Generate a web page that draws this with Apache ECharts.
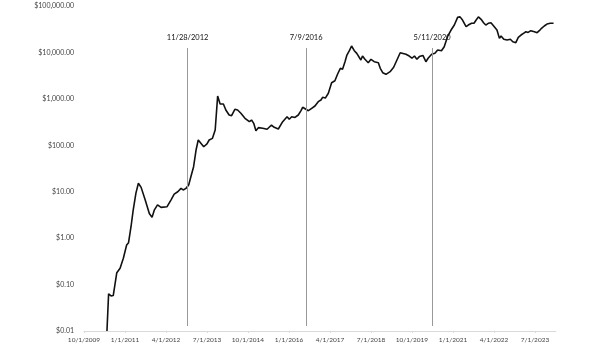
<!DOCTYPE html>
<html>
<head>
<meta charset="utf-8">
<script src="https://cdn.jsdelivr.net/npm/echarts@6/dist/echarts.min.js"></script>
<style>
html,body{margin:0;padding:0;background:#fff;}
#chart{width:600px;height:357px;}
</style>
</head>
<body>
<div id="chart"></div>
<script>
// Dates of price observations
const dates = [
'2010-06-13','2010-07-01','2010-07-28','2010-08-22','2010-10-01','2010-11-07','2010-12-13',
'2011-01-19','2011-02-10','2011-03-07','2011-04-01','2011-05-01','2011-05-28','2011-06-28',
'2011-08-13','2011-09-28','2011-10-28','2011-11-22','2011-12-28','2012-02-07','2012-04-13',
'2012-05-25','2012-07-01','2012-08-10','2012-09-16','2012-10-10','2012-11-10','2012-12-10',
'2013-01-04','2013-02-04','2013-03-01','2013-03-25','2013-04-16','2013-05-25','2013-07-01',
'2013-07-25','2013-09-01','2013-10-01','2013-10-28','2013-11-25','2013-12-16','2014-01-01',
'2014-01-28','2014-03-04','2014-04-01','2014-05-07','2014-06-07','2014-07-13','2014-08-28',
'2014-10-16','2014-11-10','2014-12-04','2014-12-28','2015-01-25','2015-03-13','2015-05-01',
'2015-06-19','2015-07-19','2015-09-04','2015-10-22','2015-12-10','2016-01-04','2016-02-01',
'2016-03-07','2016-04-13','2016-05-13','2016-06-01','2016-07-07','2016-08-04','2016-09-10',
'2016-10-16','2016-11-22','2016-12-22','2017-01-10','2017-02-10','2017-03-13','2017-04-19',
'2017-05-25','2017-06-25','2017-07-25','2017-08-19','2017-09-16','2017-10-07','2017-11-04',
'2017-11-28','2017-12-28','2018-01-25','2018-02-13','2018-03-10','2018-03-28','2018-04-25',
'2018-06-01','2018-07-01','2018-08-07','2018-09-22','2018-10-13','2018-11-10','2018-12-16',
'2019-02-01','2019-03-10','2019-04-16','2019-05-22','2019-07-25','2019-09-01','2019-10-01',
'2019-10-28','2019-11-25','2019-12-22','2020-01-13','2020-02-01','2020-03-04','2020-03-28',
'2020-05-07','2020-06-13','2020-07-13','2020-08-25','2020-09-25','2020-11-01','2020-12-10',
'2021-01-16','2021-02-22','2021-03-19','2021-04-16','2021-05-25','2021-06-19','2021-07-25',
'2021-08-22','2021-09-10','2021-10-10','2021-11-10','2021-12-07','2022-01-01','2022-01-28',
'2022-02-28','2022-03-28','2022-05-04','2022-06-01','2022-06-19','2022-07-19','2022-08-25',
'2022-10-01','2022-10-28','2022-12-01','2022-12-28','2023-01-28','2023-02-25','2023-03-22',
'2023-04-16','2023-05-16','2023-06-25','2023-07-25','2023-08-19','2023-09-13','2023-10-13',
'2023-11-13','2023-12-19','2024-01-25'
];
// Price in USD (log scale)
const prices = [
0.01,0.063,0.057,0.058,0.18,0.224,0.37,
0.71,0.80,1.76,4.0,9.3,15.2,12.4,
6.6,3.4,2.8,4.0,5.2,4.6,4.75,
6.6,8.9,10.0,11.8,10.9,11.8,13.9,
21,34.6,79,130,126,93,107,
130,141,214,1148,776,738,776,
575,449,434,596,575,489,382,
322,350,297,206,240,232,221,
273,244,224,322,413,363,413,
398,449,556,658,596,556,625,
701,869,944,1080,1040,1319,2228,
2455,3428,4547,4330,6310,8790,10890,
13750,10890,9560,9160,6870,8370,7110,
6010,7110,6310,6010,4547,3656,3380,
3846,4786,6870,9860,9160,8370,7500,
8370,7110,8130,7400,8600,6310,7500,
9160,9560,11270,10890,13270,21830,30400,
38900,57000,58300,49900,35800,38900,42400,
42400,48200,58300,51600,43600,38900,42400,
43600,37100,30400,20100,22600,19200,18500,
19200,17000,16200,21100,23700,25800,27900,
27000,29400,27900,26600,29400,33100,37100,
40900,42400,42400
];
// X tick labels (every 15 months from 10/1/2009)
const xTickLabels = ['10/1/2009','1/1/2011','4/1/2012','7/1/2013','10/1/2014','1/1/2016',
  '4/1/2017','7/1/2018','10/1/2019','1/1/2021','4/1/2022','7/1/2023'];
// Y tick labels (decades 0.01 .. 100000)
const yTickLabels = ['$0.01','$0.10','$1.00','$10.00','$100.00','$1,000.00','$10,000.00','$100,000.00'];
// Halving events
const halvingDates = ['2012-11-28','2016-07-09','2020-05-11'];
const halvingLabels = ['11/28/2012','7/9/2016','5/11/2020'];

function monthsFromStart(d){
  const p = d.split('-').map(Number);
  return (p[0]-2009)*12 + (p[1]-10) + (p[2]-1)/30;
}
const seriesData = dates.map((d,i)=>[monthsFromStart(d), prices[i]]);
const xTicks = xTickLabels.map((_,i)=>i*15);
const FONT = 'Lato';

const chart = echarts.init(document.getElementById('chart'), null, {renderer:'canvas'});
chart.setOption({
  animation:false,
  backgroundColor:'#ffffff',
  grid:{left:84, right:44, top:6, bottom:26},
  xAxis:{
    type:'value', min:0, max:172.7,
    axisLine:{show:true, lineStyle:{color:'#d9d9d9', width:1}},
    axisTick:{show:true, length:2, lineStyle:{color:'#d9d9d9'}, customValues:xTicks},
    axisLabel:{customValues:xTicks, color:'#444', fontSize:6.5, fontFamily:FONT, margin:5,
      formatter:v=>xTickLabels[Math.round(v/15)] || ''},
    splitLine:{show:false}
  },
  yAxis:{
    type:'log', logBase:10, min:0.01, max:100000, splitNumber:7,
    axisLine:{show:false}, axisTick:{show:false},
    axisLabel:{color:'#444', fontSize:7, fontFamily:FONT, margin:10,
      formatter:v=>yTickLabels[Math.round(Math.log10(v))+2] || ''},
    splitLine:{show:false}
  },
  series:[{
    type:'line', data:seriesData, showSymbol:false, symbol:'none',
    lineStyle:{color:'#111', width:1.6}, smooth:false,
    markLine:{
      silent:true, symbol:['none','none'], animation:false,
      lineStyle:{color:'#999999', width:1, type:'solid'},
      label:{show:true, position:'end', color:'#111', fontSize:7.5, fontFamily:FONT, distance:6},
      data: halvingDates.map((d,i)=>[
        {coord:[monthsFromStart(d), 0.0128]},
        {coord:[monthsFromStart(d), 12450], label:{formatter:halvingLabels[i]}}
      ])
    }
  }]
});
</script>
</body>
</html>
